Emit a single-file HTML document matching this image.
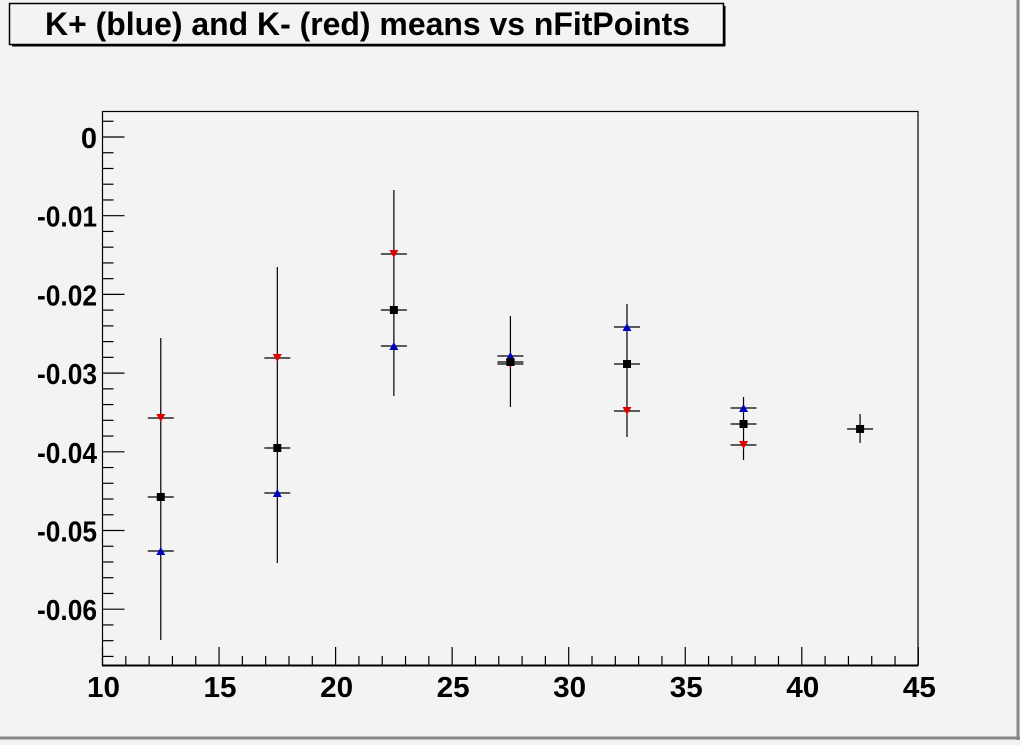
<!DOCTYPE html>
<html><head><style>body{margin:0;background:#f3f3f3}</style></head><body>
<svg width="1020" height="740" xmlns="http://www.w3.org/2000/svg" font-family="Liberation Sans, Arial, sans-serif" font-weight="bold">
<rect x="0" y="0" width="1020" height="740" fill="#f3f3f3"/>
<line x1="1018" y1="0" x2="1018" y2="740" stroke="#888" stroke-width="3"/>
<line x1="0" y1="738" x2="1020" y2="738" stroke="#888" stroke-width="3"/>
<rect x="9.5" y="3.5" width="714" height="41" fill="#f3f3f3" stroke="#000" stroke-width="1.5"/>
<line x1="12" y1="45.5" x2="725" y2="45.5" stroke="#000" stroke-width="2"/>
<line x1="724.5" y1="6" x2="724.5" y2="46" stroke="#000" stroke-width="2"/>
<text x="45" y="35" font-size="32" textLength="645" lengthAdjust="spacingAndGlyphs">K+ (blue) and K- (red) means vs nFitPoints</text>
<rect x="102.5" y="111.5" width="815.5" height="554" fill="none" stroke="#000" stroke-width="1.2"/>
<line x1="102" y1="665.5" x2="918" y2="665.5" stroke="#000" stroke-width="2"/>
<g id="ticks" stroke="#000" stroke-width="1.2"></g>
<g font-size="29" text-anchor="end" id="ylab"></g>
<g font-size="29" text-anchor="middle" id="xlab"></g>
<g id="pts"></g>
<script>
const ns="http://www.w3.org/2000/svg";
function el(p,t,a,txt){const e=document.createElementNS(ns,t);for(const k in a)e.setAttribute(k,a[k]);if(txt!==undefined)e.textContent=txt;document.getElementById(p).appendChild(e);}
const X=v=>102.5+(v-10)*23.31, Y=v=>137+(-v)*7870;
for(let v=10;v<=45;v++){const x=X(v);const L=(v%5==0)?18:9;el('ticks','line',{x1:x,y1:665,x2:x,y2:665-L});if(v%5==0)el('xlab','text',{x:x+1,y:697,textLength:v<10?17:33,lengthAdjust:'spacingAndGlyphs'},String(v));}
for(let i=-33;i<=1;i++){const v=i*0.002;const y=Y(v);if(y<111||y>665)continue;const L=(i%5==0)?22:11;el('ticks','line',{x1:102.5,y1:y,x2:102.5+L,y2:y});if(i%5==0){if(i==0)el('ylab','text',{x:97,y:y+11},'0');else el('ylab','text',{x:97,y:y+11,textLength:60,lengthAdjust:'spacingAndGlyphs'},v.toFixed(2));}}
const d=[[12.5,338,640,418,497,551],[17.5,267,563,358,448,493],[22.5,190,396,254,310,346],[27.5,316,407,364,362,356],[32.5,304,437,411,364,327],[37.5,397,460,445,424,408],[42.5,414,443,null,429,null]];
for(const [v,t,b,r,k,bl] of d){const x=X(v);
el('pts','line',{x1:x,y1:t,x2:x,y2:b,stroke:'#000','stroke-width':1.2});
for(const y of [r,k,bl]){if(y!==null)el('pts','line',{x1:x-13,y1:y,x2:x+13,y2:y,stroke:'#000','stroke-width':1.2});}
if(r!==null)el('pts','polygon',{points:`${x-4.5},${r-4} ${x+4.5},${r-4} ${x},${r+4}`,fill:'#e00000'});
if(bl!==null)el('pts','polygon',{points:`${x-4.5},${bl+4} ${x+4.5},${bl+4} ${x},${bl-4}`,fill:'#0000c0'});
el('pts','rect',{x:x-4,y:k-4,width:8,height:8,fill:'#000'});}
</script>
</svg>
</body></html>
